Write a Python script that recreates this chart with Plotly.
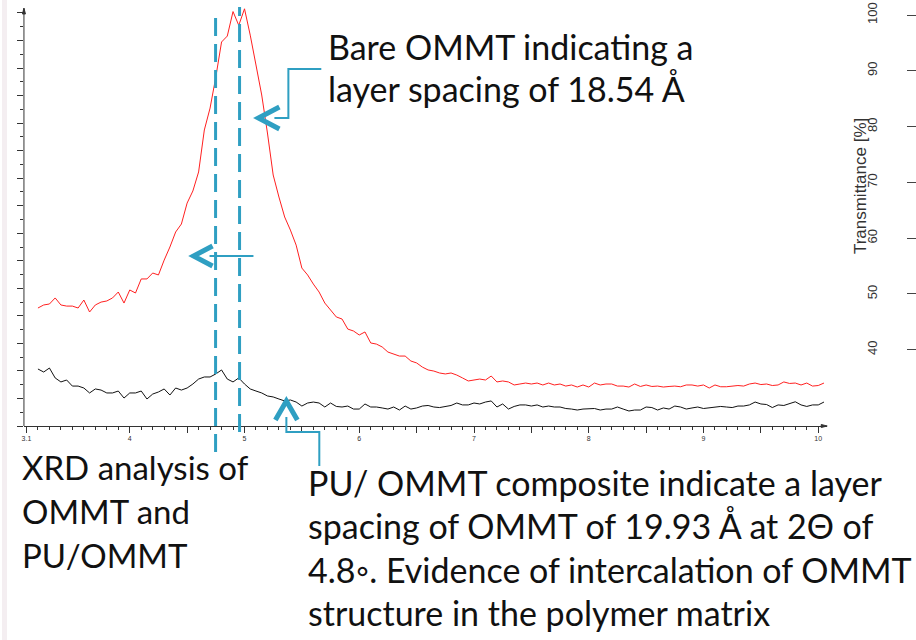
import plotly.graph_objects as go

W, H = 916, 640

# ---------------- data ----------------
two_theta = [3.20, 3.25, 3.30, 3.35, 3.40, 3.45, 3.50, 3.55, 3.60, 3.65, 3.70, 3.75, 3.80, 3.85,
             3.90, 3.95, 4.00, 4.05, 4.10, 4.15, 4.20, 4.25, 4.30, 4.35, 4.40, 4.45, 4.50, 4.55,
             4.60, 4.65, 4.70, 4.75, 4.80, 4.85, 4.90, 4.95, 5.00, 5.05, 5.10, 5.15, 5.20, 5.25,
             5.30, 5.35, 5.40, 5.45, 5.50, 5.55, 5.60, 5.65, 5.70, 5.75, 5.80, 5.85, 5.90, 5.95,
             6.00, 6.05, 6.10, 6.15, 6.20, 6.25, 6.30, 6.35, 6.40, 6.45, 6.50, 6.55, 6.60, 6.65,
             6.70, 6.75, 6.80, 6.85, 6.90, 6.95, 7.00, 7.05, 7.10, 7.15, 7.20, 7.25, 7.30, 7.35,
             7.40, 7.45, 7.50, 7.55, 7.60, 7.65, 7.70, 7.75, 7.80, 7.85, 7.90, 7.95, 8.00, 8.05,
             8.10, 8.15, 8.20, 8.25, 8.30, 8.35, 8.40, 8.45, 8.50, 8.55, 8.60, 8.65, 8.70, 8.75,
             8.80, 8.85, 8.90, 8.95, 9.00, 9.05, 9.10, 9.15, 9.20, 9.25, 9.30, 9.35, 9.40, 9.45,
             9.50, 9.55, 9.60, 9.65, 9.70, 9.75, 9.80, 9.85, 9.90, 9.95, 10.00, 10.05]

ommt_counts = [85.7, 87.9, 88.6, 93.0, 87.9, 87.1, 87.1, 85.7, 91.5, 82.8, 87.9, 90.0, 90.8, 93.0,
               97.3, 89.3, 98.8, 96.6, 106.8, 106.8, 111.1, 109.7, 120.5, 130.0, 140.9, 146.7, 161.9, 170.7,
               184.5, 215.0, 230.9, 253.4, 278.9, 283.2, 301.0, 291.0, 303.0, 283.9, 262.2, 240.4, 212.8, 182.3,
               166.3, 151.8, 142.3, 131.4, 114.7, 109.7, 103.1, 97.3, 89.3, 84.2, 79.2, 77.7, 70.4, 69.0,
               66.1, 68.3, 60.3, 59.5, 57.4, 53.7, 52.3, 50.8, 50.8, 47.2, 45.8, 42.8, 40.7, 39.9,
               38.5, 37.8, 38.5, 37.0, 34.9, 32.7, 33.4, 34.1, 33.4, 36.3, 32.0, 32.7, 32.0, 29.8,
               30.5, 31.2, 30.5, 31.2, 29.8, 31.2, 29.8, 30.5, 29.0, 29.8, 28.3, 29.8, 28.3, 31.2,
               29.8, 30.5, 30.5, 29.0, 29.0, 28.3, 30.5, 28.7, 29.8, 28.7, 29.0, 28.3, 28.7, 29.0,
               28.5, 29.8, 29.8, 29.0, 29.8, 27.6, 29.8, 28.5, 28.5, 29.0, 29.4, 29.0, 30.5, 31.2,
               30.1, 30.5, 29.4, 29.8, 32.0, 30.9, 31.2, 29.8, 31.2, 29.0, 29.4, 31.2]

pu_ommt_counts = [41.4, 39.2, 42.1, 34.9, 32.0, 33.4, 29.0, 29.0, 27.6, 24.0, 26.9, 26.1, 24.0, 24.0,
                  25.4, 20.3, 24.0, 24.0, 25.4, 19.6, 23.2, 24.7, 26.9, 22.5, 27.6, 26.1, 27.6, 30.5,
                  34.1, 35.6, 35.6, 37.8, 40.7, 34.1, 32.0, 34.9, 30.5, 26.9, 25.4, 24.0, 21.8, 21.1,
                  19.6, 18.2, 18.9, 17.4, 14.5, 16.7, 17.4, 16.7, 13.8, 16.7, 14.2, 13.8, 14.5, 12.3,
                  12.3, 16.0, 13.8, 13.8, 13.1, 12.3, 13.8, 11.6, 14.5, 12.3, 13.1, 14.5, 14.9, 13.8,
                  13.4, 14.2, 14.9, 16.7, 15.3, 15.3, 16.7, 16.0, 17.4, 18.2, 13.8, 16.0, 12.3, 14.2,
                  15.3, 15.3, 14.5, 15.3, 13.8, 14.5, 13.8, 13.8, 12.7, 12.3, 11.6, 12.3, 12.7, 12.7,
                  11.6, 12.3, 12.3, 13.8, 12.3, 10.9, 11.6, 11.6, 13.8, 13.4, 11.6, 13.1, 12.3, 14.5,
                  13.8, 12.3, 13.1, 13.8, 12.7, 13.1, 13.8, 14.2, 13.8, 13.4, 14.5, 14.5, 15.3, 17.4,
                  16.0, 15.6, 13.4, 15.3, 14.9, 16.0, 17.6, 15.3, 14.2, 15.3, 15.3, 17.4]

x_tick_vals = [3.1, 4, 4.5, 5, 5.5, 6, 6.5, 7, 7.5, 8, 8.5, 9, 9.5, 10]
x_tick_text = ["3.1", "4", "", "5", "", "6", "", "7", "", "8", "", "9", "", "10"]

trans_ticks = [40, 50, 60, 70, 80, 90, 100]
trans_title = "Transmittance [%]"

marker_lines = [4.748, 4.957]   # 2θ of the two dashed guide lines

note_bare = ["Bare OMMT indicating a", "layer spacing of 18.54 Å"]
note_xrd = ["XRD analysis of", "OMMT and", "PU/OMMT"]
note_pu = ["PU/ OMMT composite indicate a layer",
           "spacing of OMMT of 19.93 Å at 2Θ of",
           "4.8◦. Evidence of intercalation of OMMT",
           "structure in the polymer matrix"]

# ---------------- layout helpers ----------------
def px(x):
    return x / W

def py(y):
    return 1 - y / H

TEAL = "#2f9fc2"
TXT_FONT = "Lato"
TXT_SIZE = 34

fig = go.Figure()
fig.add_trace(go.Scatter(x=two_theta, y=ommt_counts, mode="lines",
                         line=dict(color="#ff2020", width=1), hoverinfo="skip", showlegend=False))
fig.add_trace(go.Scatter(x=two_theta, y=pu_ommt_counts, mode="lines",
                         line=dict(color="#111111", width=1), hoverinfo="skip", showlegend=False))
fig.add_trace(go.Scatter(x=[None], y=[None], yaxis="y2", mode="lines", hoverinfo="skip", showlegend=False))

fig.update_layout(
    width=W, height=H, margin=dict(l=0, r=0, t=0, b=0),
    paper_bgcolor="white", plot_bgcolor="rgba(0,0,0,0)",
    xaxis=dict(domain=[px(22), px(827)], range=[3.078, 10.078],
               tickvals=x_tick_vals, ticktext=x_tick_text,
               ticks="outside", ticklen=6, tickcolor="#333", tickwidth=1,
               minor=dict(dtick=0.1, tick0=3.0, ticks="outside", ticklen=3, tickcolor="#333"),
               showline=True, linecolor="#333", linewidth=1, showgrid=False, zeroline=False,
               tickfont=dict(family="Liberation Sans", size=7, color="#333")),
    yaxis=dict(domain=[py(426), 1.0], range=[0, 309.4],
               tickmode="linear", tick0=0, dtick=20,
               ticks="outside", ticklen=6, tickcolor="#333", showticklabels=False,
               minor=dict(dtick=10, ticks="outside", ticklen=3, tickcolor="#333"),
               showline=False, showgrid=False, zeroline=False),
    yaxis2=dict(overlaying="y", anchor="free", position=px(915.5), side="left",
                range=[26.34, 102.69], tickvals=trans_ticks, tickangle=-90,
                ticks="outside", ticklen=9, tickcolor="#444", ticklabelstandoff=24,
                showline=False, showgrid=False, zeroline=False,
                tickfont=dict(family="Liberation Sans", size=13, color="#333")),
)

shapes = []
# left edge strip of the slide
shapes.append(dict(type="rect", xref="paper", yref="paper", x0=0, x1=px(5), y0=0, y1=1,
                   fillcolor="#f4eef1", line=dict(width=0), layer="below"))
# y axis line with arrow
shapes.append(dict(type="line", xref="paper", yref="y", x0=px(22), x1=px(22), y0=0, y1=303,
                   line=dict(color="#333", width=1)))
shapes.append(dict(type="path", xref="paper", yref="paper",
                   path=f"M {px(20.5)},{py(14)} L {px(22)},{py(8)} L {px(23.5)},{py(14)} Z",
                   fillcolor="#333", line=dict(color="#333", width=1)))
# x axis arrow
shapes.append(dict(type="path", xref="paper", yref="paper",
                   path=f"M {px(821)},{py(424.5)} L {px(827)},{py(426)} L {px(821)},{py(427.5)} Z",
                   fillcolor="#333", line=dict(color="#333", width=1)))
# dashed guide lines
shapes.append(dict(type="line", xref="x", yref="paper", x0=marker_lines[0], x1=marker_lines[0],
                   y0=py(452), y1=py(10), line=dict(color=TEAL, width=3, dash="18px,8px")))
shapes.append(dict(type="line", xref="x", yref="paper", x0=marker_lines[1], x1=marker_lines[1],
                   y0=py(432), y1=py(7), line=dict(color=TEAL, width=3, dash="18px,8px")))

def poly(points, width):
    d = "M " + " L ".join(f"{px(a)},{py(b)}" for a, b in points)
    return dict(type="path", xref="paper", yref="paper", path=d,
                line=dict(color=TEAL, width=width))

# connector + chevron for the bare OMMT note
shapes.append(poly([(273, 118), (287, 118), (287, 69), (320, 69)], 2))
shapes.append(poly([(278, 107), (257, 118), (278, 129)], 5))
# left pointing arrow at mid height
shapes.append(poly([(208, 256), (252, 256)], 2))
shapes.append(poly([(211, 246), (192, 256), (211, 266)], 5))
# up chevron + connector for PU/OMMT note
shapes.append(poly([(274, 420), (285, 401), (296, 420)], 5))
shapes.append(poly([(285, 417), (285, 432), (318, 432), (318, 466)], 2))

fig.update_layout(shapes=shapes)

ann = []
def line_note(text, x, baseline, size=TXT_SIZE):
    ann.append(dict(text=text, xref="paper", yref="paper", x=px(x), y=py(baseline - 13),
                    xanchor="left", yanchor="middle", showarrow=False,
                    font=dict(family=TXT_FONT, size=size, color="#111")))

for i, t in enumerate(note_bare):
    line_note(t, 325, 59 + 43 * i)
for i, t in enumerate(note_xrd):
    line_note(t, 18, 480 + 44 * i, 33)
for i, t in enumerate(note_pu):
    line_note(t, 305, 495 + 43.5 * i)

ann.append(dict(text=trans_title, xref="paper", yref="paper", x=px(860), y=py(186),
                textangle=-90, showarrow=False, xanchor="center", yanchor="middle",
                font=dict(family="Liberation Sans", size=17, color="#333")))

fig.update_layout(annotations=ann)

fig.write_html("out.html", config={"displayModeBar": False},
               post_script="document.body.style.margin='0';document.body.style.padding='0';")
